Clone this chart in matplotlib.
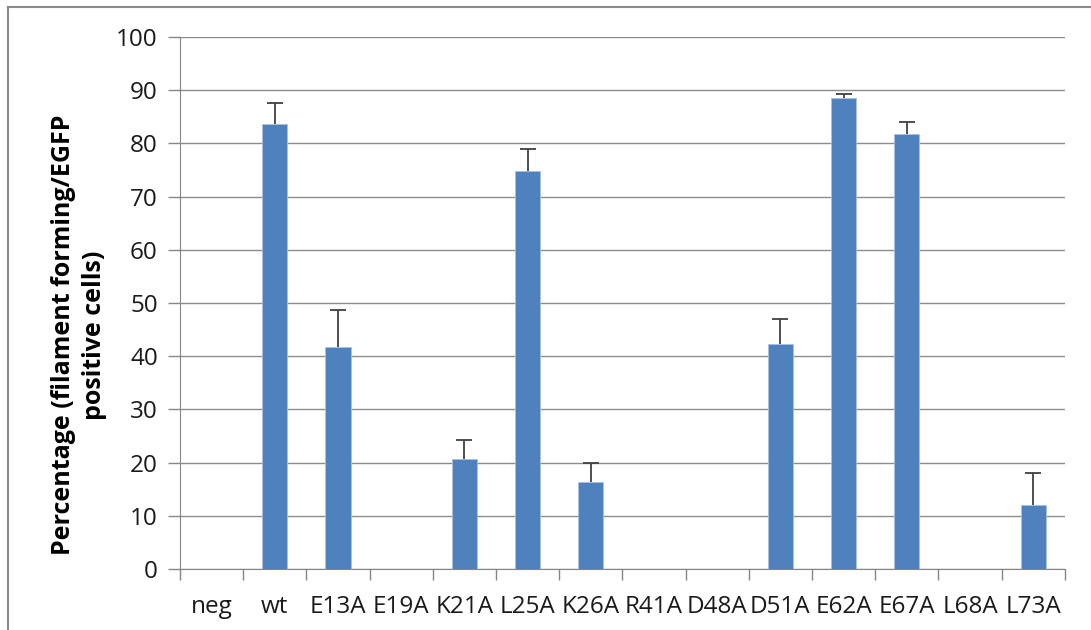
import matplotlib
matplotlib.use("Agg")
import matplotlib.pyplot as plt
from matplotlib.lines import Line2D
import numpy as np

categories = ["neg", "wt", "E13A", "E19A", "K21A", "L25A", "K26A",
              "R41A", "D48A", "D51A", "E62A", "E67A", "L68A", "L73A"]
values = [0, 83.7, 41.7, 0, 20.7, 74.8, 16.4, 0, 0, 42.2, 88.5, 81.8, 0, 12.0]
errors = [0, 3.8, 6.9, 0, 3.5, 4.2, 3.5, 0, 0, 4.7, 0.8, 2.3, 0, 6.0]

plt.rcParams["font.family"] = ["Open Sans", "DejaVu Sans"]

fig = plt.figure(figsize=(10.91, 6.30), dpi=100)
ax = fig.add_axes([0.165, 0.0968, 0.811, 0.8445])

x = np.arange(len(categories))
errs = np.array(errors)
mask = errs > 0
ax.bar(x, values, width=0.4, color="#4f81bd", edgecolor="#a9c0e0",
       linewidth=0.6, zorder=3)
eb = ax.errorbar(x[mask], np.array(values)[mask],
                 yerr=[np.zeros(mask.sum()), errs[mask]],
                 fmt="none", ecolor="#404040", elinewidth=1.3, capsize=6,
                 capthick=1.3, zorder=4)
# only the upper cap, like the original
eb[1][0].set_visible(False)

ax.set_xlim(-0.5, len(categories) - 0.5)
ax.set_ylim(0, 100)
ax.set_yticks(range(0, 101, 10))
ax.set_xticks(x)
ax.set_xticklabels(categories)
ax.set_xticks(np.arange(-0.5, len(categories)), minor=True)
ax.tick_params(axis="x", which="major", length=0, pad=19, labelsize=17.5,
               labelcolor="#1a1a1a")
ax.tick_params(axis="x", which="minor", length=8, width=1, color="#868686")
ax.tick_params(axis="y", length=9, width=1, color="#868686", pad=7,
               labelsize=17.5, labelcolor="#1a1a1a")

ax.grid(axis="y", color="#8c8c8c", linewidth=1, zorder=0)
for side in ["top", "right"]:
    ax.spines[side].set_visible(False)
ax.spines["left"].set_color("#868686")
ax.spines["bottom"].set_color("#868686")

ax.set_ylabel("Percentage (filament forming/EGFP\npositive cells)",
              fontsize=18, fontweight="bold", linespacing=1.3)
ax.yaxis.set_label_coords(-0.083, 0.44)

# outer chart border (left and top visible)
fig.add_artist(Line2D([8 / 1091, 8 / 1091], [0, 1 - 7 / 630],
                      transform=fig.transFigure, color="#8a8a8a", lw=1.5))
fig.add_artist(Line2D([8 / 1091, 1], [1 - 7 / 630, 1 - 7 / 630],
                      transform=fig.transFigure, color="#8a8a8a", lw=1.5))

fig.savefig("out.png", dpi=100)
